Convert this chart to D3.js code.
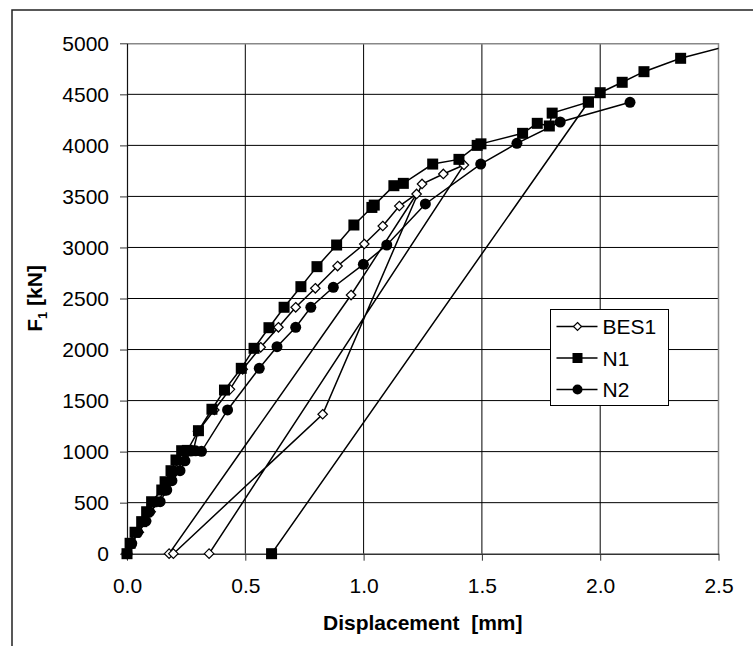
<!DOCTYPE html>
<html>
<head>
<meta charset="utf-8">
<script src="https://cdn.jsdelivr.net/npm/d3@7/dist/d3.min.js"></script>
<style>
  body { margin: 0; background: #fff; }
  svg text { font-family: Arial, "Liberation Sans", sans-serif; fill: #000; }
</style>
</head>
<body>
<div id="chart"></div>
<script>
// axis ticks
const xTicks = [0, 0.5, 1.0, 1.5, 2.0, 2.5];
const yTicks = [0, 500, 1000, 1500, 2000, 2500, 3000, 3500, 4000, 4500, 5000];

const seriesNames = ["BES1", "N1", "N2"];

// [displacement mm, F1 kN] in test order
const bes1Data = [
  [0, 0], [0.02, 110], [0.05, 210], [0.08, 320], [0.10, 410], [0.13, 510],
  [0.16, 620], [0.18, 710], [0.21, 820], [0.24, 910], [0.28, 1010], [0.30, 1200],
  [0.369, 1408], [0.435, 1610], [0.489, 1806], [0.565, 2022], [0.640, 2218],
  [0.713, 2414], [0.796, 2600], [0.890, 2818], [1.003, 3034], [1.081, 3210],
  [1.151, 3406], [1.224, 3524], [0.947, 2534], [0.178, 0], [0.196, 0],
  [0.827, 1366], [1.247, 3622], [1.337, 3720], [1.424, 3808], [0.347, 0]
];

const n1Data = [
  [0, 0], [0.013, 102], [0.034, 210], [0.062, 314], [0.083, 411], [0.104, 509],
  [0.147, 624], [0.161, 705], [0.186, 813], [0.207, 918], [0.231, 1009],
  [0.255, 1012], [0.302, 1205], [0.359, 1415], [0.412, 1603], [0.483, 1816],
  [0.537, 2012], [0.600, 2214], [0.664, 2414], [0.735, 2616], [0.803, 2812],
  [0.886, 3024], [0.959, 3220], [1.035, 3392], [1.045, 3415], [1.128, 3605],
  [1.168, 3628], [1.292, 3817], [1.403, 3863], [1.480, 4000], [1.496, 4015],
  [1.672, 4118], [1.734, 4216], [1.785, 4190], [1.797, 4316], [1.950, 4425],
  [0.611, 0], [1.950, 4425], [2.000, 4516], [2.093, 4618], [2.185, 4722],
  [2.340, 4853], [2.600, 5010]
];

const n2Data = [
  [0, 0], [0.02, 100], [0.045, 210], [0.08, 320], [0.095, 410], [0.14, 510],
  [0.168, 624], [0.19, 715], [0.224, 813], [0.245, 910], [0.27, 1005],
  [0.29, 1008], [0.315, 1003], [0.425, 1408], [0.559, 1816], [0.634, 2028],
  [0.713, 2218], [0.777, 2414], [0.872, 2610], [0.999, 2835], [1.098, 3024],
  [1.261, 3426], [1.495, 3817], [1.648, 4020], [1.831, 4229], [2.126, 4422]
];

class DisplacementChart {
  constructor(parentElement) {
    this.parentElement = parentElement;
    this.series = [
      { name: seriesNames[0], data: bes1Data, marker: "diamond" },
      { name: seriesNames[1], data: n1Data, marker: "square" },
      { name: seriesNames[2], data: n2Data, marker: "circle" }
    ];
    this.initViz();
  }

  initViz() {
    let viz = this;

    viz.margin = { top: 43.3, right: 34.5, bottom: 92.3, left: 127 };
    viz.width = 753 - viz.margin.left - viz.margin.right;
    viz.height = 646 - viz.margin.top - viz.margin.bottom;

    viz.root = d3
      .select("#" + viz.parentElement)
      .append("svg")
      .attr("width", 753)
      .attr("height", 646);

    // outer chart frame (runs off the picture on the right and bottom)
    viz.root
      .append("rect")
      .attr("x", 12)
      .attr("y", 10)
      .attr("width", 800)
      .attr("height", 700)
      .attr("fill", "none")
      .attr("stroke", "#222")
      .attr("stroke-width", 1.5);

    viz.svg = viz.root
      .append("g")
      .attr("transform", `translate(${viz.margin.left},${viz.margin.top})`);

    viz.x = d3.scaleLinear().domain([0, 2.5]).range([0, viz.width]);
    viz.y = d3.scaleLinear().domain([0, 5000]).range([viz.height, 0]);

    viz.svg
      .append("clipPath")
      .attr("id", "plot-clip")
      .append("rect")
      .attr("width", viz.width)
      .attr("height", viz.height);

    // gridlines
    viz.svg
      .append("g")
      .selectAll("line")
      .data(yTicks.filter((d) => d > 0 && d < 5000))
      .enter()
      .append("line")
      .attr("x1", 0)
      .attr("x2", viz.width)
      .attr("y1", (d) => viz.y(d))
      .attr("y2", (d) => viz.y(d))
      .attr("stroke", "#000")
      .attr("stroke-width", 1);

    viz.svg
      .append("g")
      .selectAll("line")
      .data(xTicks.filter((d) => d > 0 && d < 2.5))
      .enter()
      .append("line")
      .attr("y1", 0)
      .attr("y2", viz.height)
      .attr("x1", (d) => viz.x(d))
      .attr("x2", (d) => viz.x(d))
      .attr("stroke", "#000")
      .attr("stroke-width", 1);

    // grey plot border on top and right
    viz.svg
      .append("path")
      .attr("d", `M0,0.5H${viz.width}V${viz.height}`)
      .attr("fill", "none")
      .attr("stroke", "#888")
      .attr("stroke-width", 1.5);

    // X axis
    let xAxis = viz.svg
      .append("g")
      .attr("class", "x-axis")
      .attr("transform", `translate(0,${viz.height})`)
      .call(
        d3.axisBottom(viz.x).tickValues(xTicks).tickFormat(d3.format(".1f")).tickSizeInner(7).tickSizeOuter(0)
      );
    xAxis.select(".domain").attr("stroke", "#333").attr("stroke-width", 1.5);
    xAxis.selectAll(".tick line").attr("stroke", "#333");
    xAxis.selectAll(".tick text").attr("font-size", 21).attr("dy", "0.95em").attr("y", 19);

    // Y axis
    let yAxis = viz.svg
      .append("g")
      .attr("class", "y-axis")
      .call(d3.axisLeft(viz.y).tickValues(yTicks).tickFormat(d3.format("d")).tickSizeInner(7).tickSizeOuter(0));
    yAxis.select(".domain").attr("stroke", "#111").attr("stroke-width", 1.2);
    yAxis.selectAll(".tick line").attr("stroke", "#333");
    yAxis.selectAll(".tick text").attr("font-size", 21).attr("x", -18);

    // axis titles
    viz.svg
      .append("text")
      .attr("x", viz.width / 2)
      .attr("y", viz.height + 76)
      .attr("text-anchor", "middle")
      .attr("font-size", 21)
      .attr("font-weight", "bold")
      .style("white-space", "pre")
      .text("Displacement  [mm]");

    let yTitle = viz.root
      .append("text")
      .attr("transform", `translate(42,${viz.margin.top + viz.height / 2}) rotate(-90)`)
      .attr("text-anchor", "middle")
      .attr("font-size", 21)
      .attr("font-weight", "bold");
    yTitle.append("tspan").text("F");
    yTitle.append("tspan").attr("font-size", 13).attr("dy", 5).text("1");
    yTitle.append("tspan").attr("dy", -5).text(" [kN]");

    viz.line = d3
      .line()
      .x((d) => viz.x(d[0]))
      .y((d) => viz.y(d[1]));

    viz.updateViz();
  }

  drawMarker(sel, kind, size) {
    if (kind === "square") {
      sel
        .append("rect")
        .attr("x", -size / 2)
        .attr("y", -size / 2)
        .attr("width", size)
        .attr("height", size)
        .attr("fill", "#000");
    } else if (kind === "circle") {
      sel.append("circle").attr("r", size / 2).attr("fill", "#000");
    } else {
      let r = size / 2;
      sel
        .append("path")
        .attr("d", `M0,${-r}L${r},0L0,${r}L${-r},0Z`)
        .attr("fill", "#fff")
        .attr("stroke", "#000")
        .attr("stroke-width", 1.2);
    }
  }

  updateViz() {
    let viz = this;

    viz.series.forEach((s) => {
      let g = viz.svg.append("g").attr("class", "series");

      g.append("path")
        .datum(s.data)
        .attr("clip-path", "url(#plot-clip)")
        .attr("d", viz.line)
        .attr("fill", "none")
        .attr("stroke", "#000")
        .attr("stroke-width", 1.5);

      let size = s.marker === "diamond" ? 9.5 : 11;
      g.selectAll(".pt")
        .data(s.data.filter((d) => d[0] <= 2.5 && d[1] <= 5000))
        .enter()
        .append("g")
        .attr("class", "pt")
        .attr("transform", (d) => `translate(${viz.x(d[0])},${viz.y(d[1])})`)
        .each(function () {
          viz.drawMarker(d3.select(this), s.marker, size);
        });
    });

    // legend
    let legend = viz.root.append("g").attr("transform", "translate(550.5,309.5)");
    legend
      .append("rect")
      .attr("width", 118)
      .attr("height", 96)
      .attr("fill", "#fff")
      .attr("stroke", "#000")
      .attr("stroke-width", 1);

    let items = legend
      .selectAll(".legend-item")
      .data(viz.series)
      .enter()
      .append("g")
      .attr("class", "legend-item")
      .attr("transform", (d, i) => `translate(0,${17 + i * 31.5})`);

    items
      .append("line")
      .attr("x1", 6)
      .attr("x2", 47)
      .attr("stroke", "#000")
      .attr("stroke-width", 1.5);

    items.each(function (d) {
      let m = d3.select(this).append("g").attr("transform", "translate(27,0)");
      viz.drawMarker(m, d.marker, d.marker === "diamond" ? 8 : 10);
    });

    items
      .append("text")
      .attr("x", 52)
      .attr("dy", "0.36em")
      .attr("font-size", 21)
      .text((d) => d.name);
  }
}

new DisplacementChart("chart");
</script>
</body>
</html>
